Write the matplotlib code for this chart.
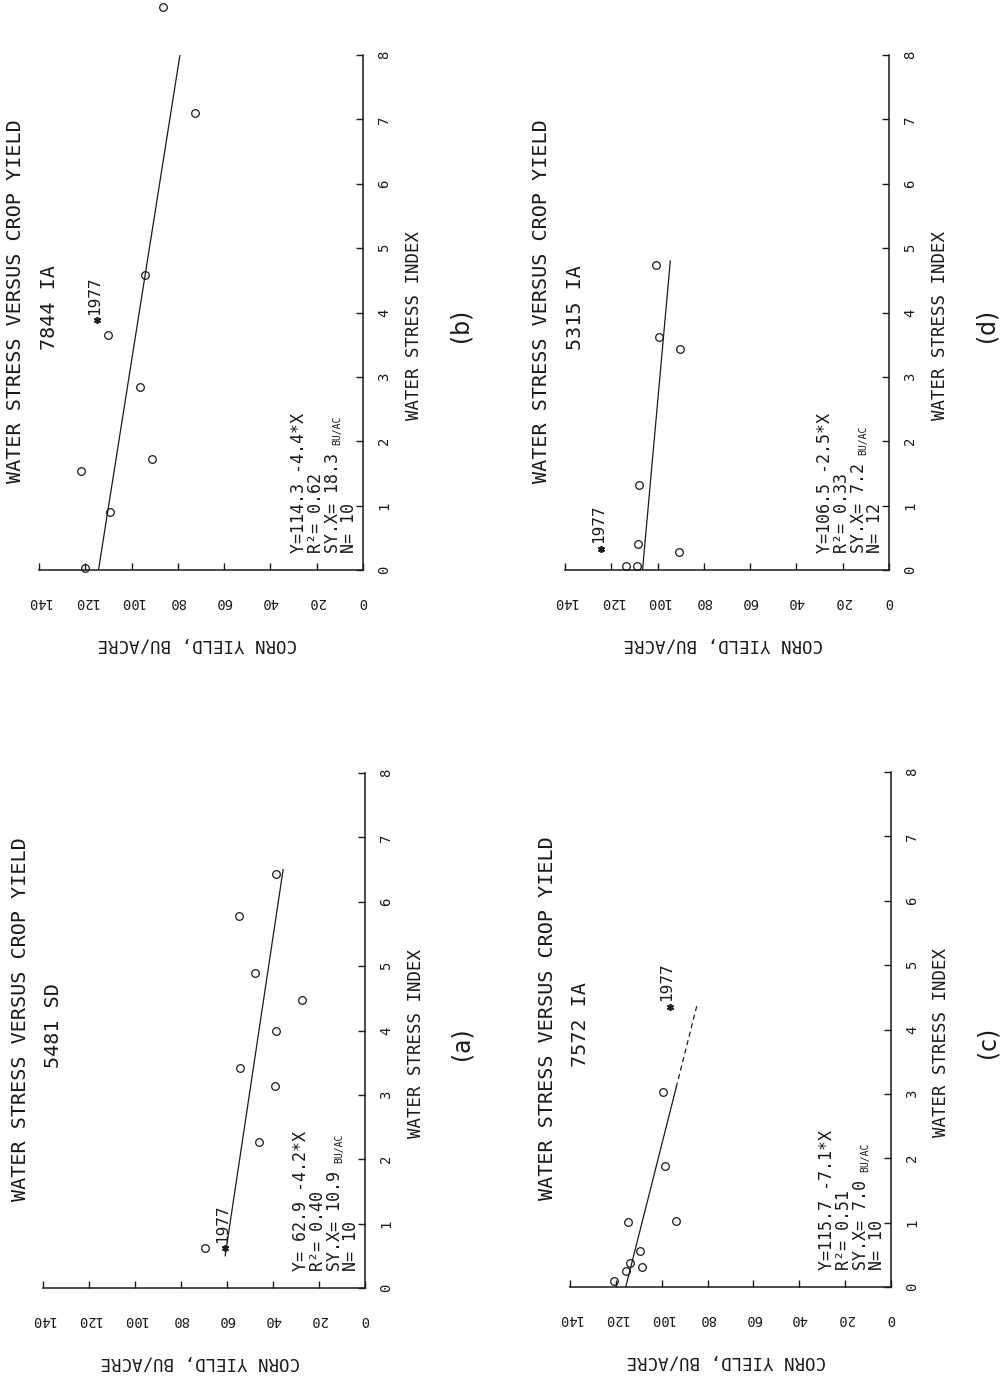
"""Water stress versus crop yield for four stations, page turned on its side"""

import matplotlib.pyplot as plt

plt.rcParams['font.family'] = ['DejaVu Sans Mono', 'DejaVu Sans']

W, H = 1004, 1377

ws_ticks = [0, 1, 2, 3, 4, 5, 6, 7, 8]
yield_ticks = [0, 20, 40, 60, 80, 100, 120, 140]

# (a) 5481 SD
a_ws = [6.43, 5.78, 4.89, 4.47, 3.99, 3.42, 3.14, 2.27, 0.62]
a_yield = [38.7, 54.8, 47.8, 27.4, 38.7, 54.3, 39.1, 46.1, 69.6]
a_1977 = [0.62, 60.9]
a_fit = [62.9, -4.2, 0.5, 6.5]
a_stats = ['Y= 62.9 -4.2*X', 'R²= 0.40', 'SY.X= 10.9', 'N= 10']

# (b) 7844 IA
b_ws = [8.74, 7.10, 4.58, 3.65, 2.84, 1.72, 1.54, 0.90, 0.03]
b_yield = [86.4, 72.6, 94.2, 110.0, 96.4, 91.3, 121.9, 109.3, 120.0]
b_1977 = [3.88, 115.0]
b_fit = [114.3, -4.4, 0.0, 8.0]
b_stats = ['Y=114.3 -4.4*X', 'R²= 0.62', 'SY.X= 18.3', 'N= 10']

# (c) 7572 IA
c_ws = [3.03, 1.88, 1.01, 1.02, 0.56, 0.37, 0.31, 0.25, 0.09]
c_yield = [99.6, 98.7, 114.8, 93.9, 109.6, 114.0, 108.7, 115.7, 121.0]
c_1977 = [4.35, 96.5]
c_fit = [115.7, -7.1, 0.0, 3.1]
c_dash_to = 4.4
c_stats = ['Y=115.7 -7.1*X', 'R²= 0.51', 'SY.X= 7.0', 'N= 10']

# (d) 5315 IA
d_ws = [4.74, 3.62, 3.44, 1.32, 0.40, 0.28, 0.06, 0.06]
d_yield = [100.6, 99.4, 90.3, 108.0, 108.4, 90.7, 113.6, 108.9]
d_1977 = [0.33, 124.4]
d_fit = [106.5, -2.5, 0.0, 4.8]
d_stats = ['Y=106.5 -2.5*X', 'R²= 0.33', 'SY.X= 7.2', 'N= 12']

INK = '#1a1a1a'


def px_rect(x0, y0, x1, y1):
    """pixel box of the plotting area -> figure fraction rect"""
    return [x0 / W, 1 - y1 / H, (x1 - x0) / W, (y1 - y0) / H]


def draw_panel(fig, box, letter, station, ws, yld, p77, fit, stats, dash_to=None):
    ax = fig.add_axes(px_rect(*box))
    ax.set_xlim(140, 0)
    ax.set_ylim(0, 8)
    ax.patch.set_alpha(0)

    for side in ['top', 'left']:
        ax.spines[side].set_visible(False)
    for side in ['right', 'bottom']:
        ax.spines[side].set_linewidth(1.1)
        ax.spines[side].set_color(INK)

    ax.yaxis.tick_right()
    ax.set_yticks(ws_ticks)
    ax.set_yticklabels([str(t) for t in ws_ticks])
    ax.tick_params(axis='y', direction='in', length=5, width=1, pad=10,
                   labelsize=10, labelrotation=90, colors=INK)
    for t in ax.get_yticklabels():
        t.set_va('center')
    ax.set_xticks(yield_ticks)
    ax.set_xticklabels([str(t) for t in yield_ticks])
    ax.tick_params(axis='x', direction='in', length=5, width=1, pad=18,
                   labelsize=10, labelrotation=180, colors=INK)

    # data points and the 1977 year
    ax.plot(yld, ws, 'o', mfc='none', mec=INK, ms=5.5, mew=0.9, clip_on=False)
    ax.plot(p77[1], p77[0], marker=(6, 2, 0), color=INK, ms=5, mew=1.2, clip_on=False)
    ax.annotate('1977', xy=(p77[1], p77[0]), xytext=(-2, 4), textcoords='offset points',
                rotation=90, ha='center', va='bottom', fontsize=11.5, color=INK)

    # regression line
    icpt, slope, x0, x1 = fit
    ax.plot([icpt + slope * x0, icpt + slope * x1], [x0, x1], color=INK, lw=0.9)
    if dash_to:
        ax.plot([icpt + slope * x1, icpt + slope * dash_to], [x1, dash_to],
                color=INK, lw=0.9, dashes=(4, 3))

    # stats block
    xs = [0.802, 0.855, 0.907, 0.957]
    for i, line in enumerate(stats):
        t = ax.text(xs[i], 0.033, line, transform=ax.transAxes, rotation=90,
                    ha='center', va='bottom', fontsize=12, color=INK)
        if i == 2:
            ax.annotate('BU/AC', xy=(1, 1), xycoords=t, xytext=(0, 6),
                        textcoords='offset points', rotation=90, ha='right',
                        va='bottom', fontsize=7, color=INK)

    kw = dict(transform=ax.transAxes, rotation=90, ha='center', va='center', color=INK)
    ax.text(-0.071, 0.523, 'WATER STRESS VERSUS CROP YIELD', fontsize=14.5, **kw)
    ax.text(0.032, 0.51, station, fontsize=14.5, **kw)
    ax.text(1.157, 0.474, 'WATER STRESS INDEX', fontsize=12.5, **kw)
    ax.text(1.30, 0.475, letter, fontsize=17, family='DejaVu Sans', **kw)
    ax.text(0.487, -0.144, 'CORN YIELD, BU/ACRE', transform=ax.transAxes,
            rotation=180, ha='center', va='center', fontsize=12.5, color=INK)
    return ax


def plot_page():
    """four regression panels as they sit on the scanned page"""
    fig = plt.figure(figsize=(W / 100, H / 100), dpi=100)
    fig.patch.set_facecolor('white')

    draw_panel(fig, (39, 55, 363, 570), '(b)', '7844 IA', b_ws, b_yield, b_1977, b_fit, b_stats)
    draw_panel(fig, (43, 773, 365, 1288), '(a)', '5481 SD', a_ws, a_yield, a_1977, a_fit, a_stats)
    draw_panel(fig, (565, 55, 889, 570), '(d)', '5315 IA', d_ws, d_yield, d_1977, d_fit, d_stats)
    draw_panel(fig, (570, 772, 891, 1287), '(c)', '7572 IA', c_ws, c_yield, c_1977, c_fit,
               c_stats, dash_to=c_dash_to)

    fig.savefig('out.png', dpi=100)


plot_page()
